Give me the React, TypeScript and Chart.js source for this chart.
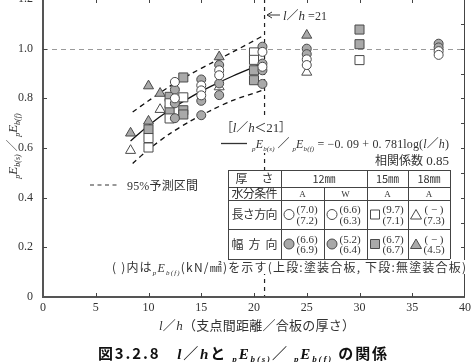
import React, { useEffect, useRef } from 'react';
import { Chart, registerables } from 'chart.js';
Chart.register(...registerables);

// ---------------- data ----------------
const X_MIN = 0, X_MAX = 40, X_STEP = 5;
const Y_MIN = 0, Y_MAX = 1.2, Y_STEP = 0.2;
const REF_X = 21; // l/h = 21
const REF_Y = 1.0;

// 12mm 長さ方向 (open circle)
const OC_X = [12.5, 12.5, 15, 15, 15, 16.7, 16.7, 20.8, 20.8, 25, 25, 37.5, 37.5];
const OC_Y = [0.866, 0.80, 0.852, 0.832, 0.812, 0.913, 0.893, 0.987, 0.927, 0.957, 0.934, 0.99, 0.975];
// 12mm 幅方向 (gray circle)
const GC_X = [12.5, 12.5, 12.5, 15, 15, 15, 16.7, 16.7, 16.7, 20.8, 20.8, 20.8, 20.8, 25, 25, 37.5, 37.5];
const GC_Y = [0.835, 0.78, 0.72, 0.876, 0.79, 0.732, 0.934, 0.86, 0.813, 1.008, 0.94, 0.913, 0.858, 1.0, 0.978, 1.02, 1.005];
// 15mm 長さ方向 (open square)
const OS_X = [10, 10, 12, 12, 13.3, 20, 20, 30];
const OS_Y = [0.64, 0.602, 0.78, 0.719, 0.804, 0.985, 0.955, 0.954];
// 15mm 幅方向 (gray square)
const GS_X = [10, 12, 12, 13.3, 13.3, 13.3, 20, 20, 30, 30];
const GS_Y = [0.675, 0.806, 0.752, 0.884, 0.752, 0.735, 0.913, 0.873, 1.077, 1.018];
// 18mm 長さ方向 (open triangle)
const OT_X = [8.3, 11.1, 16.7, 25];
const OT_Y = [0.59, 0.755, 0.846, 0.905];
// 18mm 幅方向 (gray triangle)
const GT_X = [8.3, 10, 10, 11.1, 16.7, 25];
const GT_Y = [0.66, 0.85, 0.708, 0.82, 0.967, 1.054];

// regression line and 95% prediction band (l/h < 21)
const REG_X = [8.3, 10, 12, 14, 16, 18, 21];
const REG_Y = [0.628, 0.691, 0.753, 0.805, 0.850, 0.890, 0.943];
const BAND_X = [8.5, 10, 12, 14, 16, 18, 21];
const UP_Y = [0.745, 0.79, 0.848, 0.898, 0.943, 0.987, 1.055];
const LO_Y = [0.538, 0.594, 0.657, 0.709, 0.753, 0.792, 0.835];

// table
const TBL_THICK = ['12㎜', '15㎜', '18㎜'];
const TBL_MOIST = ['A', 'W', 'A', 'A'];
const TBL_ROWS = ['長さ方向', '幅　方　向'];
const TBL_SYMS = [['oc', 'oc', 'os', 'ot'], ['gc', 'gc', 'gs', 'gt']];
const TBL_TOP = [['(7.0)', '(6.6)', '(9.7)', '( − )'], ['(6.6)', '(5.2)', '(6.7)', '( − )']];
const TBL_BOT = [['(7.2)', '(6.3)', '(7.1)', '(7.3)'], ['(6.9)', '(6.4)', '(6.7)', '(4.5)']];

// ---------------- style ----------------
const OFF = 20;
const W = 475, H = 382;
const JP = '"Noto Sans CJK JP", sans-serif';
const SERIF = '"Liberation Serif", "DejaVu Serif", serif';
const INK = '#333';
const GRAY = '#a9a9a9';
const EDGE = '#4a4a4a';

const pts = (xs: number[], ys: number[]) => xs.map((x, i) => ({ x, y: ys[i] }));

type Seg = { t: string; f: string; dy?: number };

function drawRich(ctx: CanvasRenderingContext2D, segs: Seg[], x: number, y: number, align: 'left' | 'right' | 'center' = 'left', target?: number) {
  let w = 0, n = 0;
  for (const s of segs) { ctx.font = s.f; for (const ch of Array.from(s.t)) { w += ctx.measureText(ch).width; n++; } }
  const extra = target ? (target - w) / Math.max(1, n - 1) : 0;
  const total = target ?? w;
  let cx = align === 'left' ? x : align === 'right' ? x - total : x - total / 2;
  ctx.textAlign = 'left';
  ctx.textBaseline = 'alphabetic';
  for (const s of segs) {
    ctx.font = s.f;
    for (const ch of Array.from(s.t)) {
      ctx.fillText(ch, cx, y + (s.dy || 0));
      cx += ctx.measureText(ch).width + extra;
    }
  }
}

function pEb(sub: string, size: number, bold = false): Seg[] {
  const b = bold ? 'bold ' : '';
  return [
    { t: 'p', f: `italic ${b}${Math.round(size * 0.6)}px ${SERIF}`, dy: size * 0.25 },
    { t: 'E', f: `italic ${b}${size}px ${SERIF}` },
    { t: sub, f: `italic ${b}${Math.round(size * 0.6)}px ${SERIF}`, dy: size * 0.25 },
  ];
}

function drawSym(ctx: CanvasRenderingContext2D, kind: string, x: number, y: number) {
  ctx.save();
  ctx.lineWidth = 1;
  ctx.strokeStyle = EDGE;
  ctx.fillStyle = kind[0] === 'g' ? GRAY : '#fff';
  ctx.beginPath();
  if (kind[1] === 'c') ctx.arc(x, y, 5, 0, Math.PI * 2);
  else if (kind[1] === 's') ctx.rect(x - 4.5, y - 4.5, 9, 9);
  else { ctx.moveTo(x, y - 5); ctx.lineTo(x + 5.5, y + 4.5); ctx.lineTo(x - 5.5, y + 4.5); ctx.closePath(); }
  ctx.fill();
  ctx.stroke();
  ctx.restore();
}

function whiteBox(ctx: CanvasRenderingContext2D, x: number, y: number, w: number, h: number) {
  ctx.save();
  ctx.fillStyle = '#fff';
  ctx.fillRect(x, y, w, h);
  ctx.restore();
}

const decor = {
  id: 'decor',
  beforeDatasetsDraw(chart: any) {
    const { ctx, chartArea: a, scales } = chart;
    const xs = scales.x, ys = scales.y;
    ctx.save();
    ctx.lineWidth = 1;
    ctx.strokeStyle = '#9a9a9a';
    ctx.setLineDash([5, 4]);
    const y1 = Math.round(ys.getPixelForValue(REF_Y)) + 0.5;
    ctx.beginPath(); ctx.moveTo(a.left, y1); ctx.lineTo(a.right, y1); ctx.stroke();
    ctx.strokeStyle = '#222';
    ctx.lineWidth = 1.2;
    ctx.setLineDash([4, 4]);
    const x21 = xs.getPixelForValue(REF_X);
    ctx.beginPath(); ctx.moveTo(x21, a.top); ctx.lineTo(x21, a.bottom); ctx.stroke();
    ctx.restore();
  },
  afterDraw(chart: any) {
    const { ctx, chartArea: a, scales } = chart;
    const xs = scales.x, ys = scales.y;
    ctx.save();
    // frame
    ctx.strokeStyle = '#555';
    ctx.lineWidth = 2;
    ctx.beginPath(); ctx.moveTo(a.left, a.top); ctx.lineTo(a.left, a.bottom); ctx.lineTo(a.right, a.bottom); ctx.stroke();
    ctx.lineWidth = 1;
    ctx.strokeStyle = '#444';
    ctx.beginPath(); ctx.moveTo(a.left, a.top + 0.5); ctx.lineTo(a.right - 0.5, a.top + 0.5); ctx.lineTo(a.right - 0.5, a.bottom); ctx.stroke();
    // inward ticks
    ctx.beginPath();
    for (let v = X_MIN + X_STEP; v < X_MAX; v += X_STEP) {
      const px = Math.round(xs.getPixelForValue(v)) + 0.5;
      ctx.moveTo(px, a.bottom); ctx.lineTo(px, a.bottom - 4);
      ctx.moveTo(px, a.top); ctx.lineTo(px, a.top + 4);
    }
    for (let k = 1; k < 6; k++) {
      const py = Math.round(ys.getPixelForValue(k * Y_STEP)) + 0.5;
      ctx.moveTo(a.left, py); ctx.lineTo(a.left + 4, py);
    }
    for (let k = 1; k < 12; k++) {
      const py = Math.round(ys.getPixelForValue(k * Y_STEP / 2)) + 0.5;
      ctx.moveTo(a.right, py); ctx.lineTo(a.right - 4, py);
    }
    ctx.stroke();

    ctx.translate(0, OFF);
    ctx.fillStyle = INK;
    ctx.strokeStyle = INK;

    // y title
    ctx.save();
    ctx.translate(12, 146);
    ctx.rotate(-Math.PI / 2);
    drawRich(ctx, [...pEb('b(s)', 13), { t: ' ／ ', f: `12px ${JP}` }, ...pEb('b(f)', 13)], 0, 4.5, 'center');
    ctx.restore();

    // l/h = 21 annotation
    ctx.lineWidth = 1;
    ctx.beginPath(); ctx.moveTo(267, 15); ctx.lineTo(280, 15); ctx.stroke();
    ctx.beginPath(); ctx.moveTo(267, 15); ctx.lineTo(272, 12); ctx.moveTo(267, 15); ctx.lineTo(272, 18); ctx.stroke();
    drawRich(ctx, [
      { t: 'l', f: `italic 13px ${SERIF}` }, { t: '／', f: `12px ${JP}` }, { t: 'h', f: `italic 13px ${SERIF}` },
      { t: ' =21', f: `12px ${SERIF}` },
    ], 283, 19.5, 'left');

    // [l/h<21]
    whiteBox(ctx, 219, 119, 74, 17);
    ctx.fillStyle = INK;
    drawRich(ctx, [
      { t: '［', f: `12px ${JP}` }, { t: 'l', f: `italic 13px ${SERIF}` }, { t: '／', f: `12px ${JP}` },
      { t: 'h', f: `italic 13px ${SERIF}` }, { t: '＜', f: `12px ${JP}` }, { t: '21', f: `13px ${SERIF}` }, { t: '］', f: `12px ${JP}` },
    ], 221, 131.5, 'left', 70);

    // regression legend
    whiteBox(ctx, 250, 136, 201, 17);
    ctx.fillStyle = INK;
    ctx.lineWidth = 1.3;
    ctx.beginPath(); ctx.moveTo(221, 143.5); ctx.lineTo(247, 143.5); ctx.stroke();
    drawRich(ctx, [
      ...pEb('b(s)', 12), { t: ' ／ ', f: `12px ${JP}` }, ...pEb('b(f)', 12),
      { t: ' = −0. 09 + 0. 781log(', f: `12px ${SERIF}` }, { t: 'l', f: `italic 12px ${SERIF}` },
      { t: '／', f: `12px ${JP}` }, { t: 'h', f: `italic 12px ${SERIF}` }, { t: ')', f: `12px ${SERIF}` },
    ], 252, 148, 'left', 197);
    drawRich(ctx, [{ t: '相関係数', f: `12px ${JP}` }, { t: ' 0.85', f: `13px ${SERIF}` }], 449, 164.5, 'right');

    // 95% legend
    ctx.lineWidth = 1.2;
    ctx.setLineDash([4, 3.5]);
    ctx.beginPath(); ctx.moveTo(90, 185); ctx.lineTo(119, 185); ctx.stroke();
    ctx.setLineDash([]);
    drawRich(ctx, [{ t: '95%', f: `12px ${SERIF}` }, { t: '予測区間', f: `12px ${JP}` }], 127, 189.5, 'left', 71);

    // table
    const cx = [228, 281, 324, 367, 408, 450];
    const ry = [170, 187, 200, 229, 259];
    ctx.fillStyle = '#fff';
    ctx.fillRect(cx[0], ry[0], cx[5] - cx[0], ry[4] - ry[0]);
    ctx.strokeStyle = '#444';
    ctx.lineWidth = 1;
    ctx.beginPath();
    for (const yy of ry) { ctx.moveTo(cx[0], yy + 0.5); ctx.lineTo(cx[5], yy + 0.5); }
    for (let i = 0; i < cx.length; i++) {
      const top = i === 2 ? ry[1] : ry[0];
      ctx.moveTo(cx[i] + 0.5, top); ctx.lineTo(cx[i] + 0.5, ry[4]);
    }
    ctx.stroke();
    ctx.fillStyle = INK;
    const midC = (i: number) => (cx[i] + cx[i + 1]) / 2;
    drawRich(ctx, [{ t: '厚　さ', f: `12px ${JP}` }], midC(0), 183, 'center', 38);
    drawRich(ctx, [{ t: TBL_THICK[0], f: `11px ${JP}` }], cx[2], 183, 'center');
    drawRich(ctx, [{ t: TBL_THICK[1], f: `11px ${JP}` }], midC(3), 183, 'center');
    drawRich(ctx, [{ t: TBL_THICK[2], f: `11px ${JP}` }], midC(4), 183, 'center');
    drawRich(ctx, [{ t: '水分条件', f: `12px ${JP}` }], midC(0), 198, 'center', 46);
    TBL_MOIST.forEach((m, i) => drawRich(ctx, [{ t: m, f: `9px ${SERIF}` }], midC(i + 1), 197, 'center'));
    TBL_ROWS.forEach((r, k) => {
      const mid = (ry[2 + k] + ry[3 + k]) / 2;
      drawRich(ctx, [{ t: r, f: `12px ${JP}` }], midC(0), mid + 4.5, 'center', 46);
      for (let i = 0; i < 4; i++) {
        drawSym(ctx, TBL_SYMS[k][i], cx[i + 1] + 8, mid);
        ctx.fillStyle = INK;
        drawRich(ctx, [{ t: TBL_TOP[k][i], f: `11px ${SERIF}` }], cx[i + 1] + 26, mid - 1.5, 'center');
        drawRich(ctx, [{ t: TBL_BOT[k][i], f: `11px ${SERIF}` }], cx[i + 1] + 26, mid + 9, 'center');
      }
    });

    // note
    whiteBox(ctx, 110, 260, 359, 14);
    ctx.fillStyle = INK;
    drawRich(ctx, [
      { t: '( )内は', f: `12px ${JP}` }, ...pEb('b(f)', 12),
      { t: '(kN/㎟)を示す(上段:塗装合板, 下段:無塗装合板)', f: `12px ${JP}` },
    ], 112, 271.5, 'left', 354);

    // x title
    drawRich(ctx, [
      { t: 'l', f: `italic 13px ${SERIF}` }, { t: '／', f: `13px ${JP}` }, { t: 'h', f: `italic 13px ${SERIF}` },
      { t: '（支点間距離／合板の厚さ）', f: `13px ${JP}` },
    ], 257, 330, 'center', 196);

    // caption
    ctx.fillStyle = '#111';
    drawRich(ctx, [
      { t: '図3.2.8　', f: `bold 15px ${JP}` },
      { t: 'l', f: `italic bold 15px ${SERIF}` }, { t: '／', f: `bold 15px ${JP}` }, { t: 'h', f: `italic bold 15px ${SERIF}` },
      { t: 'と ', f: `bold 15px ${JP}` }, ...pEb('b(s)', 15, true), { t: '／ ', f: `bold 15px ${JP}` },
      ...pEb('b(f)', 15, true), { t: ' の関係', f: `bold 15px ${JP}` },
    ], 98, 358.5, 'left', 289);

    ctx.restore();
  },
};

export default function App() {
  const ref = useRef<HTMLCanvasElement>(null);
  useEffect(() => {
    if (!ref.current) return;
    const mk = (data: any[], style: string, fill: string, r: number) => ({
      data, pointStyle: style, backgroundColor: fill, borderColor: EDGE, borderWidth: 1,
      pointRadius: r, pointHoverRadius: r, showLine: false,
    });
    const chart = new Chart(ref.current, {
      type: 'scatter',
      data: {
        datasets: [
          mk(pts(OC_X, OC_Y), 'circle', '#fff', 4.5),
          mk(pts(GC_X, GC_Y), 'circle', GRAY, 4.5),
          mk(pts(OS_X, OS_Y), 'rect', '#fff', 6.4),
          mk(pts(GS_X, GS_Y), 'rect', GRAY, 6.4),
          mk(pts(OT_X, OT_Y), 'triangle', '#fff', 5.8),
          mk(pts(GT_X, GT_Y), 'triangle', GRAY, 5.8),
          { data: pts(REG_X, REG_Y), showLine: true, borderColor: '#111', borderWidth: 1.3, pointRadius: 0, tension: 0.3 },
          { data: pts(BAND_X, UP_Y), showLine: true, borderColor: '#111', borderWidth: 1.3, borderDash: [5, 4], pointRadius: 0, tension: 0.3 },
          { data: pts(BAND_X, LO_Y), showLine: true, borderColor: '#111', borderWidth: 1.3, borderDash: [5, 4], pointRadius: 0, tension: 0.3 },
        ] as any,
      },
      options: {
        animation: false,
        responsive: false,
        layout: { padding: { top: 19, right: 6, left: 0, bottom: 0 } },
        plugins: { legend: { display: false }, tooltip: { enabled: false } },
        scales: {
          x: {
            type: 'linear', min: X_MIN, max: X_MAX,
            afterFit: (s: any) => { s.height = 65; },
            grid: { display: false, drawTicks: false },
            border: { display: false },
            ticks: { stepSize: X_STEP, padding: 4, color: INK, font: { family: SERIF, size: 12 } },
          },
          y: {
            type: 'linear', min: Y_MIN, max: Y_MAX,
            afterFit: (s: any) => { s.width = 43; },
            grid: { display: false, drawTicks: false },
            border: { display: false },
            ticks: {
              stepSize: Y_STEP, padding: 10, color: INK, font: { family: SERIF, size: 12 },
              callback: (v: any) => (Number(v) === 0 ? '0' : Number(v).toFixed(1)),
            },
          },
        },
      } as any,
      plugins: [decor],
    });
    return () => chart.destroy();
  }, []);
  return (
    <div style={{ position: 'fixed', left: 0, top: -OFF, width: W, height: H, background: '#fff' }}>
      <canvas ref={ref} width={W} height={H} style={{ width: W, height: H, display: 'block' }} />
    </div>
  );
}
